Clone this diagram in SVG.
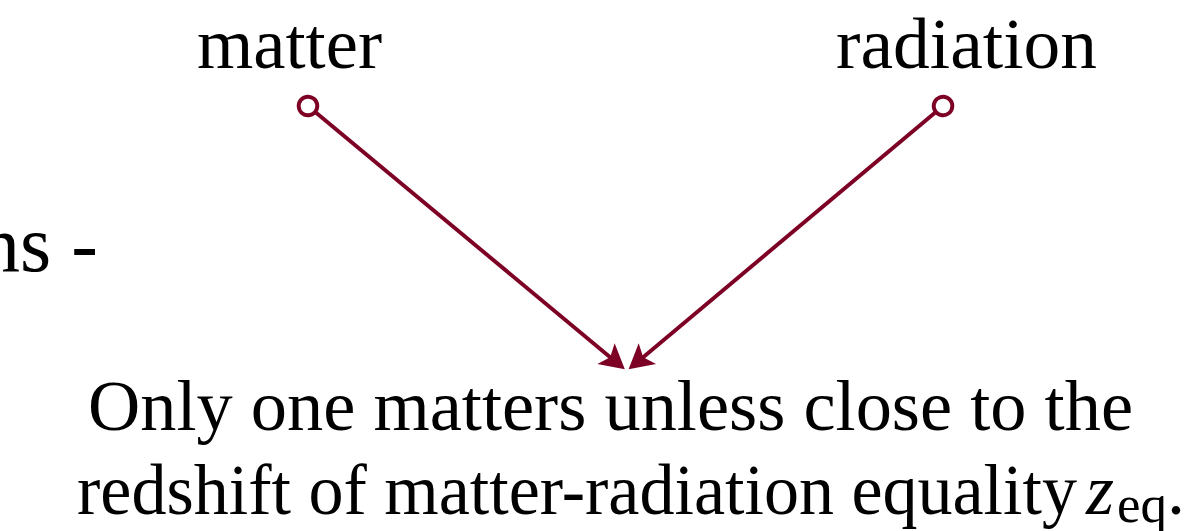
<svg xmlns="http://www.w3.org/2000/svg" width="1194" height="531" viewBox="0 0 1194 531">
  <style>
    .t { font-family: "Liberation Serif", "DejaVu Serif", serif; fill: #000; }
    .lbl { font-size: 72px; }
    .conn { stroke: #7d0025; stroke-width: 3.9; fill: none; }
  </style>
  <defs>
    <marker id="dot" markerUnits="userSpaceOnUse" viewBox="-14 -14 28 28" markerWidth="28" markerHeight="28" refX="0" refY="0" orient="auto" overflow="visible">
      <circle cx="0" cy="0" r="9.3" fill="#fff" stroke="#7d0025" stroke-width="3.9"/>
    </marker>
    <marker id="stealth" markerUnits="userSpaceOnUse" viewBox="-20 -16 32 32" markerWidth="32" markerHeight="32" refX="0" refY="0" orient="auto" overflow="visible">
      <path d="M8.5,0 L-16,-13.5 L-10.5,0 L-16,13.5 Z" fill="#7d0025"/>
    </marker>
  </defs>
  <rect width="1194" height="531" fill="#fff"/>

  <g id="partial-left">
    <text class="t" x="-20" y="271" font-size="80">ns -</text>
  </g>

  <g id="matter">
    <text class="t lbl" x="197" y="68" textLength="185" lengthAdjust="spacingAndGlyphs">matter</text>
  </g>

  <g id="radiation">
    <text class="t lbl" x="836" y="68" textLength="261" lengthAdjust="spacingAndGlyphs">radiation</text>
  </g>

  <g id="conclusion">
    <text class="t lbl" x="88" y="430" textLength="1045" lengthAdjust="spacingAndGlyphs">Only one matters unless close to the</text>
    <text class="t lbl" x="77" y="514" textLength="1000" lengthAdjust="spacingAndGlyphs">redshift of matter-radiation equality</text>
    <text class="t lbl" x="1086" y="514" font-style="italic">z</text>
    <text class="t" x="1117" y="522" font-size="52" textLength="50" lengthAdjust="spacingAndGlyphs">eq</text>
    <text class="t lbl" x="1167" y="514">.</text>
  </g>

  <g id="connectors">
    <line class="conn" x1="308" y1="106" x2="618.3" y2="363.9" marker-start="url(#dot)" marker-end="url(#stealth)"/>
    <line class="conn" x1="943" y1="106" x2="635.1" y2="363.9" marker-start="url(#dot)" marker-end="url(#stealth)"/>
  </g>
</svg>
